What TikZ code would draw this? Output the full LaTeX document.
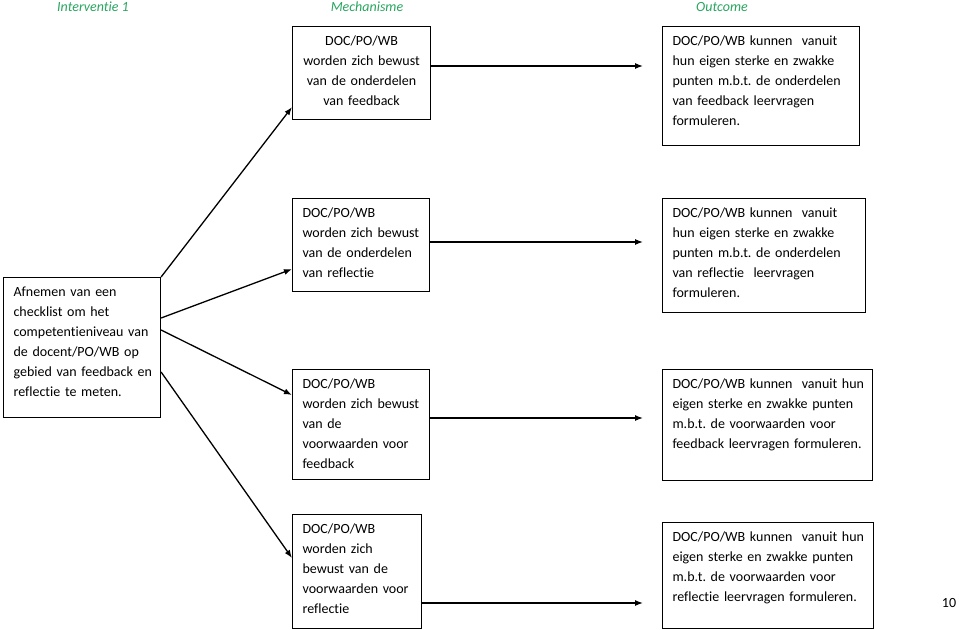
\documentclass[tikz,border=0pt]{standalone}
\usepackage{fontspec}
\setmainfont[Ligatures=NoCommon]{Carlito}
\usetikzlibrary{arrows.meta}
\definecolor{kopgroen}{RGB}{40,165,95}
\frenchspacing

\tikzset{
  kop/.style={text=kopgroen, font=\fontsize{14}{20}\selectfont\itshape},
  blok/.style={draw, line width=1.1pt, anchor=north west, align=left,
    inner xsep=10pt, inner ysep=0pt, text height=19pt,
    font=\fontsize{14}{20}\selectfont},
  pijl/.style={line width=1.3pt, -{Latex[length=8pt,width=6pt]}}
}

\begin{document}
\begin{tikzpicture}[x=1pt,y=-1pt]
\useasboundingbox (0,0) rectangle (960,629);
% kopjes
\node[kop] (k1) at (93,7) {Interventie 1};
\node[kop] (k2) at (367,7) {Mechanisme};
\node[kop] (k3) at (722,7) {Outcome};
% interventie
\node[blok, text width=137pt, text depth=121pt] (L) at (3,277)
  {Afnemen van een\\ checklist om het\\ \mbox{competentieniveau van}\\ de docent/PO/WB op\\ \mbox{gebied van feedback en}\\ reflectie te meten.};
% mechanismen
\node[blok, align=center, text width=118pt, text depth=74pt] (M1) at (292,26)
  {DOC/PO/WB\\ worden zich bewust\\ van de onderdelen\\ van feedback};
\node[blok, text width=117pt, text depth=74pt] (M2) at (292,198)
  {DOC/PO/WB\\ worden zich bewust\\ van de onderdelen\\ van reflectie};
\node[blok, text width=117pt, text depth=91pt] (M3) at (292,369)
  {DOC/PO/WB\\ worden zich bewust\\ van de\\ voorwaarden voor\\ feedback};
\node[blok, text width=109pt, text depth=95pt] (M4) at (292,514)
  {DOC/PO/WB\\ worden zich\\ bewust van de\\ voorwaarden voor\\ reflectie};
% outcomes
\node[blok, text width=177pt, text depth=100pt] (O1) at (662,26)
  {\mbox{DOC/PO/WB kunnen\ \ vanuit}\\ hun eigen sterke en zwakke\\ punten m.b.t. de onderdelen\\ van feedback leervragen\\ formuleren.};
\node[blok, text width=183pt, text depth=95pt] (O2) at (662,198)
  {\mbox{DOC/PO/WB kunnen\ \ vanuit}\\ hun eigen sterke en zwakke\\ punten m.b.t. de onderdelen\\ \mbox{van reflectie\ \ leervragen}\\ formuleren.};
\node[blok, text width=190pt, text depth=92pt] (O3) at (662,369)
  {\mbox{DOC/PO/WB kunnen\ \ vanuit hun}\\ eigen sterke en zwakke punten\\ m.b.t. de voorwaarden voor\\ \mbox{feedback leervragen formuleren.}};
\node[blok, text width=191pt, text depth=87pt] (O4) at (662,522)
  {\mbox{DOC/PO/WB kunnen\ \ vanuit hun}\\ eigen sterke en zwakke punten\\ m.b.t. de voorwaarden voor\\ \mbox{reflectie leervragen formuleren.}};
\node[font=\fontsize{14}{20}\selectfont] (nr) at (949,603) {10};
% pijlen
\draw[pijl] (L.north east) -- ([yshift=13pt]M1.south west);
\draw[pijl] ([yshift=-41pt]L.north east) -- ([yshift=23pt]M2.south west);
\draw[pijl] ([yshift=-53pt]L.north east) -- ([yshift=-26pt]M3.north west);
\draw[pijl] ([yshift=-95pt]L.north east) -- ([yshift=-44pt]M4.north west);
\draw[pijl, shorten >=19pt] ([yshift=-40pt]M1.north east) -- ([yshift=-40pt]M1.north east -| O1.west);
\draw[pijl, shorten >=19pt] ([yshift=-44pt]M2.north east) -- ([yshift=-44pt]M2.north east -| O2.west);
\draw[pijl, shorten >=19pt] ([yshift=-49pt]M3.north east) -- ([yshift=-49pt]M3.north east -| O3.west);
\draw[pijl, shorten >=19pt] ([yshift=-89pt]M4.north east) -- ([yshift=-89pt]M4.north east -| O4.west);
\end{tikzpicture}
\end{document}
